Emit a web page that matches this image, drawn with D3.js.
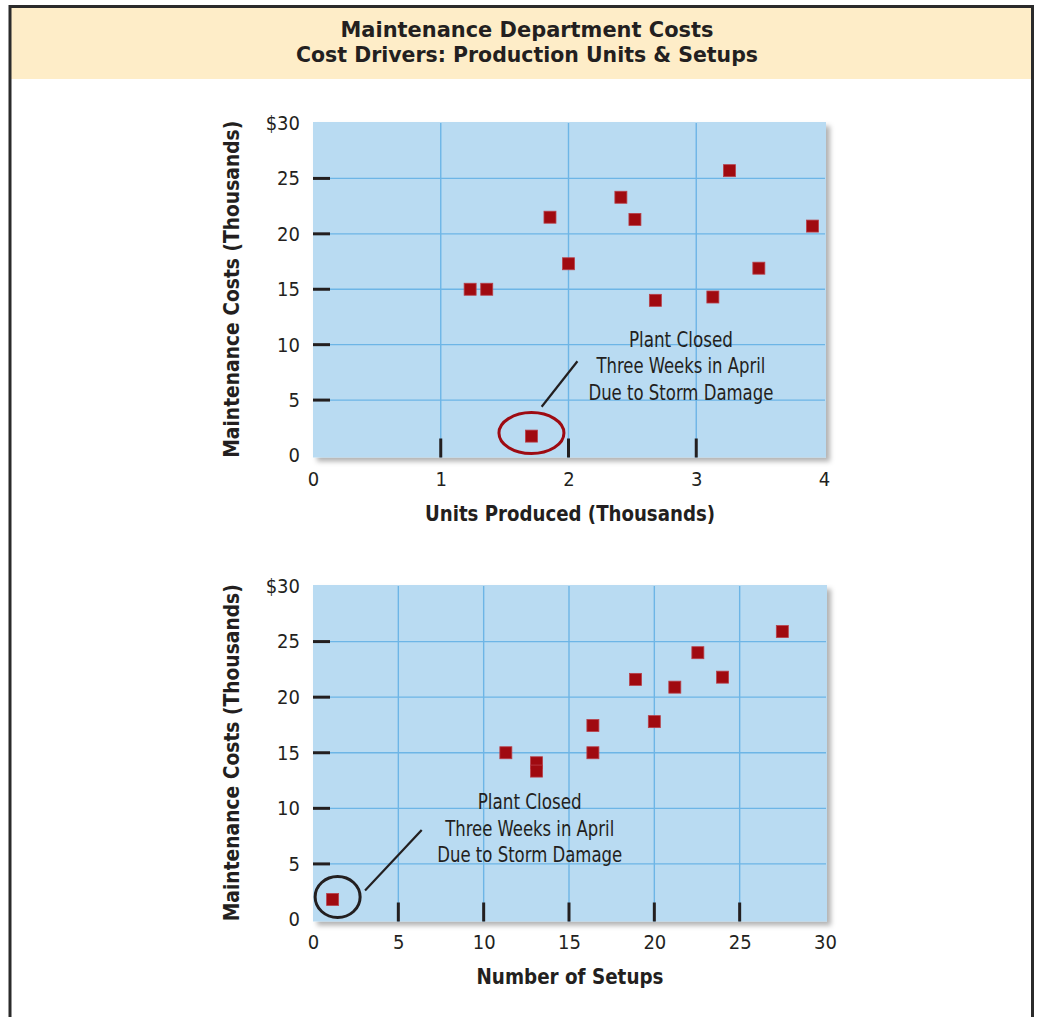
<!doctype html>
<html>
<head>
<meta charset="utf-8">
<script src="https://cdn.jsdelivr.net/npm/d3@7"></script>
<style>
  body { margin: 0; background: #fff; }
  svg { display: block; }
</style>
</head>
<body>
<script>
// Scatter of monthly maintenance costs against two cost drivers.
const unitsProduced = [1.23, 1.36, 1.71, 1.855, 2.0, 2.41, 2.52, 2.68, 3.13, 3.26, 3.49, 3.91];
const unitsCost     = [15.0, 15.0, 1.75, 21.5, 17.3, 23.3, 21.3, 14.0, 14.3, 25.7, 16.9, 20.7];

const setupCount = [1.15, 11.3, 13.1, 13.1, 16.4, 16.4, 18.9, 20.0, 21.2, 22.55, 24.0, 27.5];
const setupCost  = [1.8, 15.0, 14.1, 13.35, 17.45, 15.0, 21.6, 17.8, 20.9, 24.0, 21.8, 25.9];

const costTicks = [0, 5, 10, 15, 20, 25, 30];
const unitTicks = [0, 1, 2, 3, 4];
const setupTicks = [0, 5, 10, 15, 20, 25, 30];

const titleLines = ["Maintenance Department Costs", "Cost Drivers: Production Units & Setups"];
const noteLines = ["Plant Closed", "Three Weeks in April", "Due to Storm Damage"];

const width = 1038, height = 1017;
const font = "'Liberation Sans Narrow', 'DejaVu Sans Condensed', 'Open Sans', sans-serif";
const bg = "#b9dbf2", grid = "#6db5e6", markColor = "#a00a10";

const svg = d3.select("body").append("svg")
    .attr("width", width)
    .attr("height", height)
    .attr("font-family", font);

svg.append("defs").append("filter")
    .attr("id", "shadow")
    .attr("x", "-5%").attr("y", "-5%").attr("width", "115%").attr("height", "115%")
  .append("feDropShadow")
    .attr("dx", 4).attr("dy", 4).attr("stdDeviation", 2.5)
    .attr("flood-color", "#000").attr("flood-opacity", 0.3);

// header band + frame
svg.append("rect")
    .attr("x", 11).attr("y", 8).attr("width", 1021).attr("height", 71)
    .attr("fill", "#feedc8");

svg.append("path")
    .attr("d", "M10,1017V6.5H1032.5V1017")
    .attr("fill", "none")
    .attr("stroke", "#2b2b2b")
    .attr("stroke-width", 3);

svg.append("g")
    .attr("font-weight", "bold")
    .attr("font-size", 22)
    .attr("fill", "#231f20")
    .attr("text-anchor", "middle")
  .selectAll("text")
  .data(titleLines)
  .join("text")
    .attr("x", 527)
    .attr("y", (d, i) => 37 + i * 25)
    .attr("textLength", (d, i) => [373, 462][i])
    .attr("lengthAdjust", "spacingAndGlyphs")
    .text(d => d);

function panel(cfg) {
  const x = d3.scaleLinear().domain(cfg.xDomain).range([313, cfg.right]);
  const y = d3.scaleLinear().domain([0, 30]).range([cfg.bottom, cfg.top]);
  const g = svg.append("g");

  g.append("rect")
      .attr("x", x.range()[0])
      .attr("y", y(30) - 1)
      .attr("width", x.range()[1] - x.range()[0] + 2)
      .attr("height", y(0) - y(30) + 3)
      .attr("fill", bg)
      .attr("filter", "url(#shadow)");

  const inner = cfg.xTicks.slice(1, -1);
  const innerY = costTicks.slice(1, -1);

  // grid
  g.append("g")
      .attr("stroke", grid)
      .attr("stroke-width", 1.4)
    .call(s => s.selectAll(".h").data(innerY).join("line")
        .attr("x1", x.range()[0]).attr("x2", x.range()[1] + 1)
        .attr("y1", d => y(d)).attr("y2", d => y(d)))
    .call(s => s.selectAll(".v").data(inner).join("line")
        .attr("x1", d => x(d)).attr("x2", d => x(d))
        .attr("y1", y(30)).attr("y2", y(0) + 2));

  // inner tick marks
  g.append("g")
      .attr("stroke", "#231f20")
      .attr("stroke-width", 3)
    .call(s => s.selectAll(".ty").data(innerY).join("line")
        .attr("x1", x.range()[0]).attr("x2", x.range()[0] + 17)
        .attr("y1", d => y(d)).attr("y2", d => y(d)))
    .call(s => s.selectAll(".tx").data(inner).join("line")
        .attr("x1", d => x(d)).attr("x2", d => x(d))
        .attr("y1", y(0) - 17).attr("y2", y(0) + 2));

  // tick labels
  g.append("g")
      .attr("transform", `translate(${x.range()[0]},0)`)
      .call(d3.axisLeft(y).tickValues(costTicks).tickSize(0).tickPadding(13)
          .tickFormat(d => d === 30 ? "$30" : d))
      .call(a => a.select(".domain").remove())
      .call(a => a.selectAll("text").attr("font-size", 20).attr("font-family", font).attr("fill", "#231f20"));

  g.append("g")
      .attr("transform", `translate(0,${y(0)})`)
      .call(d3.axisBottom(x).tickValues(cfg.xTicks).tickSize(0).tickPadding(cfg.labelPad)
          .tickFormat(d3.format("d")))
      .call(a => a.select(".domain").remove())
      .call(a => a.selectAll("text").attr("font-size", 20).attr("font-family", font).attr("fill", "#231f20"));

  // axis titles
  g.append("text")
      .attr("x", 570)
      .attr("y", cfg.xTitleY)
      .attr("text-anchor", "middle")
      .attr("font-weight", "bold")
      .attr("font-size", 22)
      .attr("fill", "#231f20")
      .attr("textLength", cfg.xTitleLength)
      .attr("lengthAdjust", "spacingAndGlyphs")
      .text(cfg.xTitle);

  g.append("text")
      .attr("transform", `translate(239,${(y(0) + y(30)) / 2}) rotate(-90)`)
      .attr("text-anchor", "middle")
      .attr("font-weight", "bold")
      .attr("font-size", 22)
      .attr("fill", "#231f20")
      .attr("textLength", 337)
      .attr("lengthAdjust", "spacingAndGlyphs")
      .text("Maintenance Costs (Thousands)");

  // annotation
  const out = d3.minIndex(cfg.cost);
  const ox = x(cfg.xs[out]), oy = y(cfg.cost[out]);

  g.append("line")
      .attr("x1", x(cfg.lead[0])).attr("y1", y(cfg.lead[1]))
      .attr("x2", x(cfg.lead[2])).attr("y2", y(cfg.lead[3]))
      .attr("stroke", "#231f20")
      .attr("stroke-width", 2.2);

  g.append("g")
      .attr("font-size", 21)
      .attr("fill", "#231f20")
      .attr("text-anchor", "middle")
    .selectAll("text")
    .data(noteLines)
    .join("text")
      .attr("x", x(cfg.noteX))
      .attr("y", (d, i) => y(cfg.noteY) + i * 26.5)
      .attr("textLength", (d, i) => [104, 169, 185][i])
      .attr("lengthAdjust", "spacingAndGlyphs")
      .text(d => d);

  // points
  g.append("g")
      .attr("fill", markColor)
      .attr("stroke", "#b8404a")
      .attr("stroke-width", 0.8)
    .selectAll("rect")
    .data(d3.range(cfg.xs.length))
    .join("rect")
      .attr("x", i => x(cfg.xs[i]) - 6)
      .attr("y", i => y(cfg.cost[i]) - 6)
      .attr("width", 12)
      .attr("height", 12);

  g.append("ellipse")
      .attr("cx", ox + cfg.ring[0])
      .attr("cy", oy + cfg.ring[1])
      .attr("rx", cfg.ring[2])
      .attr("ry", cfg.ring[3])
      .attr("fill", "none")
      .attr("stroke", cfg.ringColor)
      .attr("stroke-width", 3);
}

panel({
  xDomain: [0, 4], xTicks: unitTicks, xs: unitsProduced, cost: unitsCost,
  right: 824, top: 123, bottom: 455.5, labelPad: 16,
  xTitle: "Units Produced (Thousands)", xTitleY: 521, xTitleLength: 290,
  lead: [1.79, 4.4, 2.07, 8.5], noteX: 2.88, noteY: 9.8,
  ring: [0, -3, 32.5, 20.5], ringColor: "#9e0b12"
});

panel({
  xDomain: [0, 30], xTicks: setupTicks, xs: setupCount, cost: setupCost,
  right: 825, top: 586, bottom: 919.5, labelPad: 15,
  xTitle: "Number of Setups", xTitleY: 984, xTitleLength: 187,
  lead: [3.05, 2.6, 6.37, 8.06], noteX: 12.7, noteY: 9.9,
  ring: [5, -2.5, 22.5, 20.5], ringColor: "#231f20"
});
</script>
</body>
</html>
